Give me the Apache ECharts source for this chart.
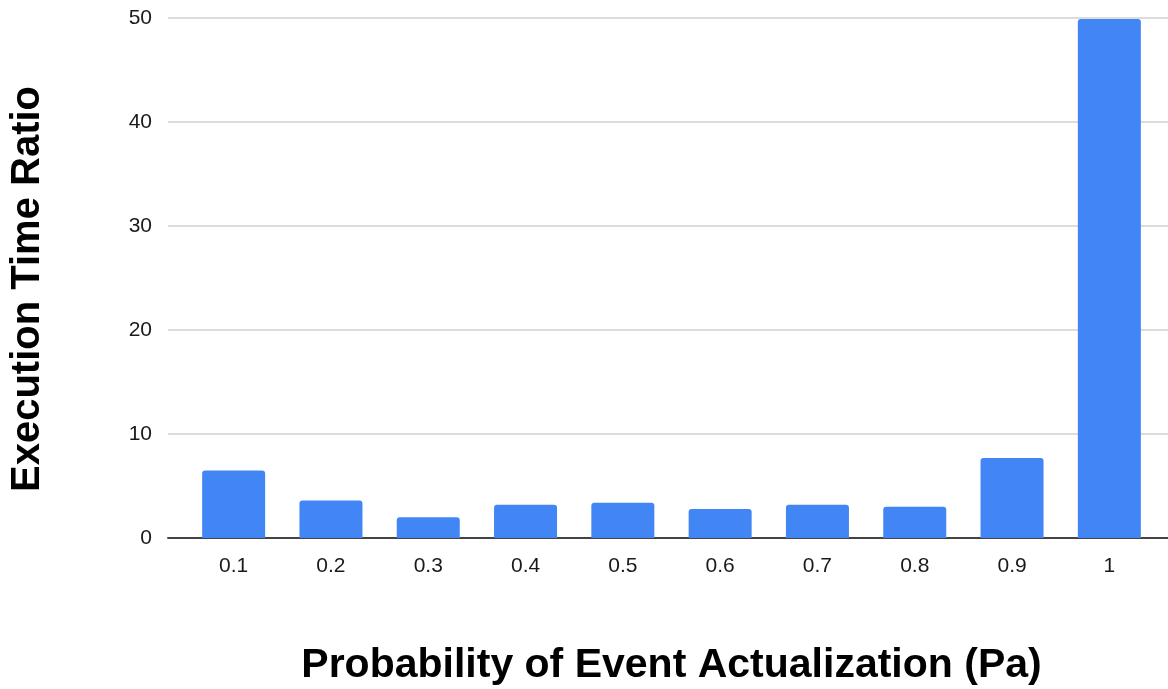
<!DOCTYPE html>
<html>
<head>
<meta charset="utf-8">
<style>
  html, body { margin: 0; padding: 0; background: #fff; }
  #chart { width: 1168px; height: 689px; }
</style>
<script src="https://cdn.jsdelivr.net/npm/echarts@6/dist/echarts.min.js"></script>
</head>
<body>
<div id="chart"></div>
<script>
// Probability of event actualization (Pa) and measured execution time ratio
const categories = ['0.1', '0.2', '0.3', '0.4', '0.5', '0.6', '0.7', '0.8', '0.9', '1'];
const ratios = [6.5, 3.6, 2.0, 3.2, 3.4, 2.8, 3.2, 3.0, 7.7, 49.9];
const yTicks = { min: 0, max: 50, interval: 10 };

const FONT = 'Liberation Sans, Arial, sans-serif';
const chart = echarts.init(document.getElementById('chart'), null, { renderer: 'canvas' });

chart.setOption({
  backgroundColor: '#ffffff',
  animation: false,
  grid: [
    // full-width frame: gridlines, baseline and y labels
    { left: 168, right: 0, top: 18, bottom: 151, outerBoundsMode: 'none', containLabel: false },
    // bar band, slightly inset
    { left: 185, right: 10, top: 18, bottom: 151, outerBoundsMode: 'none', containLabel: false }
  ],
  xAxis: [
    {
      gridIndex: 0, type: 'value', min: 0, max: 1,
      axisLine: { show: true, lineStyle: { color: '#444', width: 2 } },
      axisTick: { show: false }, axisLabel: { show: false }, splitLine: { show: false }
    },
    {
      gridIndex: 1, type: 'category', data: categories,
      axisLine: { show: false }, axisTick: { show: false },
      axisLabel: { color: '#1a1a1a', fontFamily: FONT, fontSize: 21, margin: 18 },
      name: 'Probability of Event Actualization (Pa)',
      nameLocation: 'middle', nameGap: 107,
      nameTextStyle: { color: '#000', fontFamily: FONT, fontSize: 41, fontWeight: 'bold' }
    }
  ],
  yAxis: [
    {
      gridIndex: 0, type: 'value', min: yTicks.min, max: yTicks.max, interval: yTicks.interval,
      axisLine: { show: false }, axisTick: { show: false },
      axisLabel: { color: '#1a1a1a', fontFamily: FONT, fontSize: 21, margin: 16 },
      splitLine: { lineStyle: { color: '#d0d0d0', width: 1.5 } },
      name: 'Execution Time Ratio', nameLocation: 'middle', nameGap: 120, nameRotate: 90,
      nameTextStyle: {
        color: '#000', fontFamily: FONT, fontSize: 40, fontWeight: 'bold',
        padding: [0, 22, 0, 0]
      }
    },
    {
      gridIndex: 1, type: 'value', min: yTicks.min, max: yTicks.max, interval: yTicks.interval,
      show: false
    }
  ],
  series: [{
    type: 'bar',
    xAxisIndex: 1, yAxisIndex: 1,
    data: ratios,
    barWidth: 63,
    itemStyle: { color: '#4285F4', borderRadius: [3, 3, 0, 0] }
  }]
});
</script>
</body>
</html>
